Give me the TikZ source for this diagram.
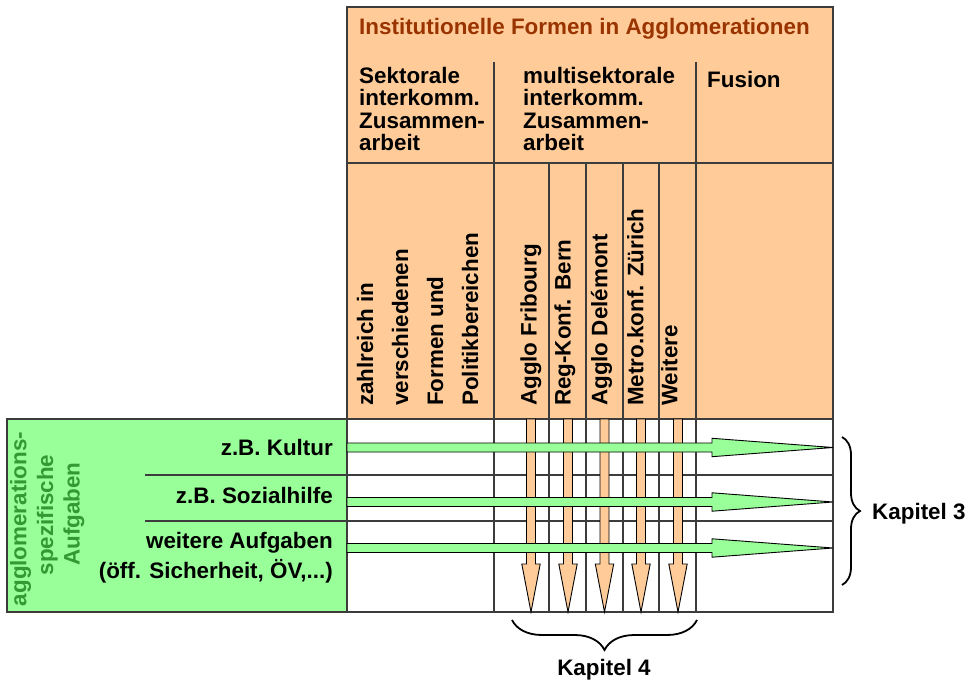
\documentclass[tikz,border=0pt]{standalone}
\usepackage{fontspec}
\setmainfont{Liberation Sans}
\usetikzlibrary{calc,decorations.pathreplacing}
\definecolor{orangefill}{RGB}{255,204,153}
\definecolor{greenfill}{RGB}{153,255,153}
\definecolor{titlebrown}{RGB}{153,51,0}
\definecolor{greentext}{RGB}{51,153,51}
\definecolor{gridgray}{RGB}{60,60,60}
\newcommand\grnarrow[2]{%
  \filldraw[garr] ($(#1)+(0,-4.5)$) -- ($(#2)+(-121,-4.5)$) -- ($(#2)+(-121,-9.2)$) -- (#2)
  -- ($(#2)+(-121,9.2)$) -- ($(#2)+(-121,4.5)$) -- ($(#1)+(0,4.5)$) -- cycle;}
\newcommand\orgarrow[2]{%
  \filldraw[oarr] ($(#1)+(-4.5,0)$) -- ($(#2)+(-4.5,-48)$) -- ($(#2)+(-9.2,-48)$) -- (#2)
  -- ($(#2)+(9.2,-48)$) -- ($(#2)+(4.5,-48)$) -- ($(#1)+(4.5,0)$) -- cycle;}
\begin{document}
\begin{tikzpicture}[x=1pt,y=-1pt,
  lbl/.style={inner sep=0pt, font=\fontsize{22.4}{26}\selectfont\bfseries},
  rlbl/.style={lbl, rotate=90, anchor=base west},
  gridline/.style={draw=gridgray, line width=1.3pt},
  garr/.style={fill=greenfill, draw=black, line width=0.9pt, line join=miter},
  oarr/.style={fill=orangefill, draw=black, line width=0.9pt, line join=miter},
  bracestyle/.style={draw=black, line width=1.8pt, decorate}]
\useasboundingbox (0,0) rectangle (972,684);

% fills
\fill[greenfill] (7,419) rectangle (347,612);
\fill[orangefill] (347,7) rectangle (833,419);
\fill[white] (347,419) rectangle (833,612);

% grid
\draw[gridline] (7,419) rectangle (347,612);
\draw[gridline] (347,7) rectangle (833,612);
\draw[gridline] (347,163) -- (833,163);
\draw[gridline] (347,419) -- (833,419);
\draw[gridline] (494,62) -- (494,612);
\draw[gridline] (696,62) -- (696,612);
\foreach \xx in {549,586,623,659} \draw[gridline] (\xx,163) -- (\xx,612);
\draw[gridline] (145,475) -- (833,475);
\draw[gridline] (145,521) -- (833,521);

% orange arrows
\coordinate (oa1) at (531,419);   \coordinate (ob1) at (531,612);
\coordinate (oa2) at (568,419);   \coordinate (ob2) at (568,612);
\coordinate (oa3) at (604.5,419); \coordinate (ob3) at (604.5,612);
\coordinate (oa4) at (641,419);   \coordinate (ob4) at (641,612);
\coordinate (oa5) at (678,419);   \coordinate (ob5) at (678,612);
\orgarrow{oa1}{ob1}
\orgarrow{oa2}{ob2}
\orgarrow{oa3}{ob3}
\orgarrow{oa4}{ob4}
\orgarrow{oa5}{ob5}

% green arrows
\coordinate (ga1) at (347,447.5); \coordinate (gb1) at (833,447.5);
\coordinate (ga2) at (347,502);   \coordinate (gb2) at (833,502);
\coordinate (ga3) at (347,548);   \coordinate (gb3) at (833,548);
\grnarrow{ga1}{gb1}
\grnarrow{ga2}{gb2}
\grnarrow{ga3}{gb3}

% header texts
\node[lbl, anchor=base west, text=titlebrown] (title) at (359,35) {Institutionelle Formen in Agglomerationen};
\node[lbl, anchor=base west] (s1) at (359,84) {Sektorale};
\node[lbl, anchor=base west] (s2) at (359,106) {interkomm.};
\node[lbl, anchor=base west] (s3) at (359,128.5) {Zusammen-};
\node[lbl, anchor=base west] (s4) at (359,151) {arbeit};
\node[lbl, anchor=base west] (m1) at (523,84) {multisektorale};
\node[lbl, anchor=base west] (m2) at (523,106) {interkomm.};
\node[lbl, anchor=base west] (m3) at (523,128.5) {Zusammen-};
\node[lbl, anchor=base west] (m4) at (523,151) {arbeit};
\node[lbl, anchor=base west] (fus) at (707,88) {Fusion};

% rotated column texts
\node[rlbl] (r1) at (373,406) {zahlreich in};
\node[rlbl] (r2) at (408,406) {verschiedenen};
\node[rlbl] (r3) at (443,406) {Formen und};
\node[rlbl] (r4) at (478,406) {Politikbereichen};
\node[rlbl] (c1) at (536.7,406) {Agglo Fribourg};
\node[rlbl] (c2) at (570.7,406) {Reg-Konf. Bern};
\node[rlbl] (c3) at (607.3,406) {Agglo Delémont};
\node[rlbl] (c4) at (643.3,406) {Metro.konf. Zürich};
\node[rlbl] (c5) at (677.3,406) {Weitere};

% green block texts
\node[lbl, rotate=90, anchor=base, text=greentext] (g1) at (26.5,519) {agglomerations-};
\node[lbl, rotate=90, anchor=base, text=greentext] (g2) at (53,515) {spezifische};
\node[lbl, rotate=90, anchor=base, text=greentext] (g3) at (79.5,514) {Aufgaben};

\node[lbl, anchor=base east] (t1) at (333,455) {z.B. Kultur};
\node[lbl, anchor=base east] (t2) at (333,503) {z.B. Sozialhilfe};
\node[lbl, anchor=base east] (t3) at (333,548) {weitere Aufgaben};
\node[lbl, anchor=base east] (t4) at (333,578) {(öff. Sicherheit, ÖV,...)};

% braces
\coordinate (b3s) at (842,437); \coordinate (b3e) at (842,585);
\draw[bracestyle, decoration={brace, amplitude=18pt}] (b3s) -- (b3e);
\coordinate (b4s) at (697,620); \coordinate (b4e) at (512,620);
\draw[bracestyle, decoration={brace, amplitude=30pt}] (b4s) -- (b4e);
\node[lbl, anchor=base west] (k3) at (872,519) {Kapitel 3};
\node[lbl, anchor=base] (k4) at (604,675) {Kapitel 4};
\end{tikzpicture}
\end{document}
